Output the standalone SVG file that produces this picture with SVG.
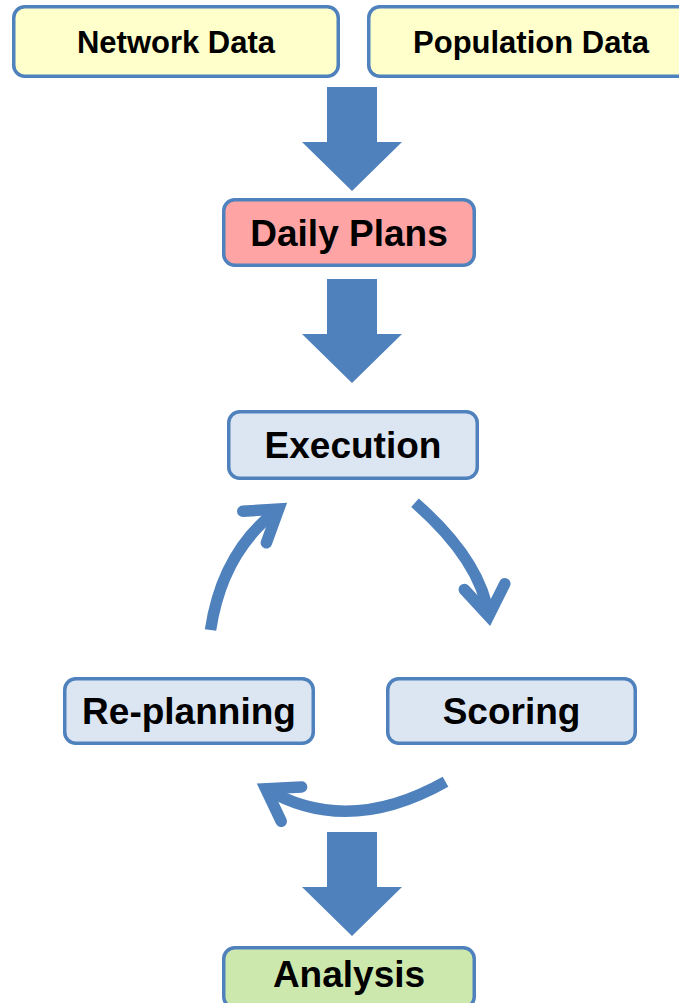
<svg xmlns="http://www.w3.org/2000/svg" width="679" height="1003" viewBox="0 0 679 1003">
<style>
.box{stroke:#4F81BD;stroke-width:3.5}
.y{fill:#FFFFCC}
.p{fill:#FFA4A4}
.b{fill:#DCE6F2}
.g{fill:#CDE8AC}
.t{font-family:"Liberation Sans",Arial,sans-serif;font-weight:bold;fill:#000;text-anchor:middle}
.s{font-size:31px}
.l{font-size:37px}
.big{fill:#4F81BD}
.arc{fill:none;stroke:#4F81BD;stroke-width:11.5;stroke-linecap:butt}
.head{fill:none;stroke:#4F81BD;stroke-width:11.5;stroke-linecap:round;stroke-linejoin:miter;stroke-miterlimit:10}
</style>
<rect width="679" height="1003" fill="#FFFFFF"/>
<g id="network-data">
<rect class="box y" x="13.75" y="6.75" width="324.5" height="69.5" rx="11"/>
<text class="t s" x="176" y="52.5">Network Data</text>
</g>
<g id="population-data">
<rect class="box y" x="368.75" y="6.75" width="324.5" height="69.5" rx="11"/>
<text class="t s" x="531" y="52.5">Population Data</text>
</g>
<g id="daily-plans">
<rect class="box p" x="223.75" y="199.75" width="250.5" height="65.5" rx="11"/>
<text class="t l" x="349" y="245.5">Daily Plans</text>
</g>
<g id="execution">
<rect class="box b" x="228.75" y="411.75" width="248.5" height="66.5" rx="11"/>
<text class="t l" x="353" y="458">Execution</text>
</g>
<g id="re-planning">
<rect class="box b" x="64.75" y="678.75" width="248.5" height="64.5" rx="11"/>
<text class="t l" x="189" y="724">Re-planning</text>
</g>
<g id="scoring">
<rect class="box b" x="387.75" y="678.75" width="247.5" height="64.5" rx="11"/>
<text class="t l" x="511.5" y="724">Scoring</text>
</g>
<g id="analysis">
<rect class="box g" x="223.75" y="947.75" width="250.5" height="60" rx="11"/>
<text class="t l" x="349" y="987">Analysis</text>
</g>
<g id="connectors">
<polygon class="big" points="327,87 377,87 377,142 402,142 352,191 302,142 327,142"/>
<polygon class="big" points="327,279 377,279 377,334 402,334 352,383 302,334 327,334"/>
<polygon class="big" points="327,832 377,832 377,887 402,887 352,936 302,887 327,887"/>
<path class="arc" d="M210.5,630 Q222.4,550.7 278.7,509"/>
<polyline class="head" points="242.8,511.3 278.7,509 266.4,542.8"/>
<path class="arc" d="M415,502.7 Q480.9,560.6 488.7,616"/>
<polyline class="head" points="464.3,589.5 488.7,616 504.8,583.8"/>
<path class="arc" d="M445.5,781.7 Q347.3,837 265.7,788.8"/>
<polyline class="head" points="301.6,787 265.7,788.8 281.2,821.3"/>
</g>
</svg>
